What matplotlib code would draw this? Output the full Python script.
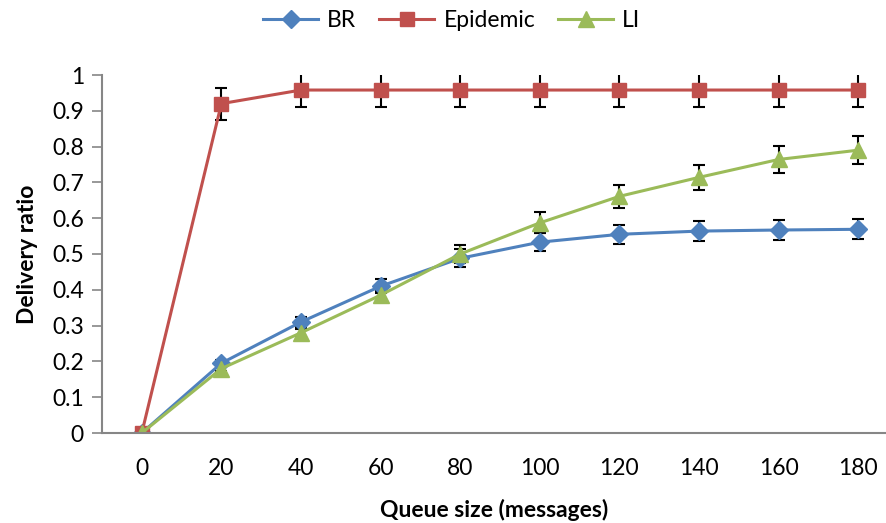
import matplotlib
matplotlib.use('Agg')
import matplotlib.pyplot as plt
import numpy as np

plt.rcParams['font.family'] = ['Lato', 'DejaVu Sans']

queue = [0, 20, 40, 60, 80, 100, 120, 140, 160, 180]

br = [0, 0.195, 0.31, 0.41, 0.488, 0.533, 0.555, 0.564, 0.567, 0.569]
br_err = [0, 0.01, 0.015, 0.02, 0.025, 0.026, 0.027, 0.027, 0.028, 0.028]

epidemic = [0, 0.92, 0.958, 0.958, 0.958, 0.958, 0.958, 0.958, 0.958, 0.958]
epidemic_err = [0, 0.045, 0.048, 0.048, 0.048, 0.048, 0.048, 0.048, 0.048, 0.048]

li = [0, 0.18, 0.28, 0.385, 0.5, 0.587, 0.661, 0.714, 0.764, 0.79]
li_err = [0, 0.008, 0.01, 0.012, 0.025, 0.029, 0.033, 0.035, 0.038, 0.039]

fig = plt.figure(figsize=(8.86, 5.23), dpi=100)
ax = fig.add_axes([102 / 886, 1 - 433 / 523, 1 - 102 / 886, (433 - 75) / 523])

series = [
    ('BR', br, br_err, '#4F81BD', 'D', 9),
    ('Epidemic', epidemic, epidemic_err, '#C0504D', 's', 10),
    ('LI', li, li_err, '#9BBB59', '^', 11),
]
for name, vals, err, col, mk, ms in series:
    ax.errorbar(queue, vals, yerr=err, color=col, lw=2.2, marker=mk, ms=ms,
                mec=col, ecolor='black', elinewidth=1.5, capsize=4.5,
                capthick=1.5, label=name)

ax.set_xlim(-10, 187)
ax.set_ylim(0, 1)
ax.set_yticks(np.arange(0, 1.01, 0.1))
ax.set_yticklabels(['0'] + ['%.1f' % v for v in np.arange(0.1, 0.95, 0.1)] + ['1'])
ax.set_xticks(queue)

for s in ['top', 'right']:
    ax.spines[s].set_visible(False)
for s in ['left', 'bottom']:
    ax.spines[s].set_color('#868686')
    ax.spines[s].set_linewidth(1.5)
ax.tick_params(axis='y', length=7, width=1.2, color='#868686', labelsize=16.5, pad=6)
ax.tick_params(axis='x', length=0, labelsize=16.5, pad=18)

ax.set_xlabel('Queue size (messages)', fontsize=16.5, fontweight='bold', labelpad=14)
ax.set_ylabel('Delivery ratio', fontsize=16.5, fontweight='bold', labelpad=10)

handles, labels = ax.get_legend_handles_labels()
handles = [h[0] for h in handles]
fig.legend(handles, labels, loc='upper center', bbox_to_anchor=(0.51, 1.02), ncol=3,
           frameon=False, fontsize=16.5, handlelength=2.4, columnspacing=1.0,
           handletextpad=0.4)

fig.savefig('out.png', dpi=100)
